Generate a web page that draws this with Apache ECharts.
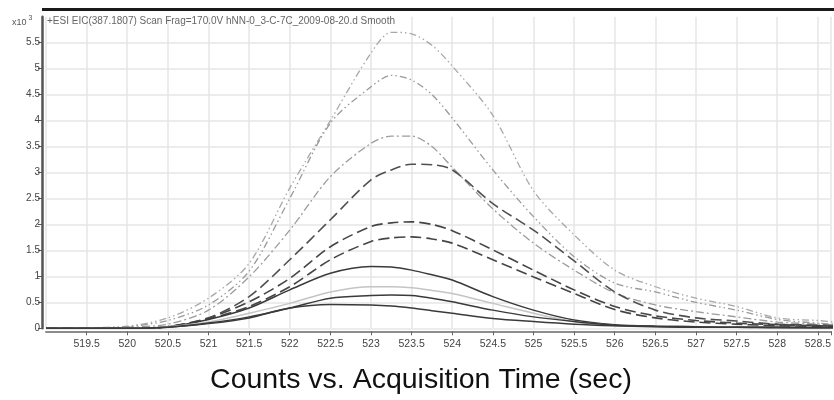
<!DOCTYPE html>
<html>
<head>
<meta charset="utf-8">
<script src="https://cdn.jsdelivr.net/npm/echarts@6/dist/echarts.min.js"></script>
<style>
html,body{margin:0;padding:0;background:#fff;}
#c{width:834px;height:400px;}
</style>
</head>
<body>
<div id="c"></div>
<script>
// Acquisition times (sec)
var times = [519.0, 519.5, 520.0, 520.5, 521.0, 521.5, 522.0, 522.5, 523.0, 523.25, 523.5, 523.75, 524.0, 524.5, 525.0, 525.5, 526.0, 526.5, 527.0, 527.5, 528.0, 528.5, 528.7];
// Counts (x10^3)
var eic1  = [0, 0.01, 0.04, 0.2, 0.58, 1.25, 2.7, 4.0, 5.3, 5.7, 5.67, 5.45, 5.05, 4.1, 2.65, 1.8, 1.12, 0.8, 0.58, 0.42, 0.2, 0.15, 0.12];
var eic2  = [0, 0.01, 0.03, 0.15, 0.45, 1.1, 2.5, 3.95, 4.65, 4.87, 4.78, 4.5, 4.05, 3.05, 2.15, 1.38, 0.87, 0.7, 0.5, 0.35, 0.17, 0.1, 0.08];
var eic3  = [0, 0, 0.02, 0.08, 0.35, 0.99, 1.89, 2.92, 3.56, 3.7, 3.7, 3.5, 3.1, 2.3, 1.64, 1.12, 0.68, 0.45, 0.32, 0.22, 0.12, 0.08, 0.06];
var eic4  = [0, 0, 0, 0.03, 0.2, 0.61, 1.32, 2.09, 2.86, 3.05, 3.16, 3.15, 3.05, 2.4, 1.89, 1.3, 0.7, 0.35, 0.2, 0.14, 0.08, 0.06, 0.05];
var eic5  = [0, 0, 0, 0.03, 0.2, 0.51, 0.96, 1.57, 1.96, 2.03, 2.05, 2.0, 1.88, 1.51, 1.12, 0.74, 0.42, 0.24, 0.15, 0.1, 0.07, 0.05, 0.04];
var eic6  = [0, 0, 0, 0.03, 0.18, 0.42, 0.8, 1.32, 1.67, 1.74, 1.76, 1.72, 1.64, 1.32, 0.99, 0.67, 0.36, 0.2, 0.12, 0.08, 0.05, 0.04, 0.03];
var eic7  = [0, 0, 0, 0.03, 0.17, 0.39, 0.74, 1.06, 1.19, 1.18, 1.12, 1.03, 0.93, 0.61, 0.35, 0.16, 0.07, 0.04, 0.03, 0.02, 0.02, 0.02, 0.02];
var eic8  = [0, 0, 0, 0.03, 0.12, 0.29, 0.48, 0.7, 0.8, 0.8, 0.78, 0.73, 0.67, 0.48, 0.29, 0.13, 0.05, 0.03, 0.02, 0.02, 0.01, 0.01, 0.01];
var eic9  = [0, 0, 0, 0.02, 0.1, 0.22, 0.39, 0.58, 0.63, 0.64, 0.63, 0.58, 0.51, 0.35, 0.22, 0.13, 0.06, 0.04, 0.03, 0.02, 0.02, 0.01, 0.01];
var eic10 = [0, 0, 0, 0.02, 0.09, 0.2, 0.39, 0.46, 0.45, 0.43, 0.39, 0.34, 0.29, 0.19, 0.13, 0.08, 0.05, 0.03, 0.02, 0.02, 0.01, 0.01, 0.01];

var traceTitle = '+ESI EIC(387.1807) Scan Frag=170.0V hNN-0_3-C-7C_2009-08-20.d Smooth';
var xTitle = 'Counts vs. Acquisition Time (sec)';

var styles = [
  {d: eic1,  c: '#a8a8a8', t: [7, 3, 1.5, 3, 1.5, 3], w: 1.3},
  {d: eic2,  c: '#9a9a9a', t: [7, 3, 1.5, 3, 1.5, 3], w: 1.3},
  {d: eic3,  c: '#9c9c9c', t: [8, 3, 2, 3], w: 1.3},
  {d: eic4,  c: '#505050', t: [11, 5], w: 1.6},
  {d: eic5,  c: '#454545', t: [11, 5], w: 1.6},
  {d: eic6,  c: '#454545', t: [11, 5], w: 1.6},
  {d: eic7,  c: '#3a3a3a', t: 'solid', w: 1.5},
  {d: eic8,  c: '#c4c4c4', t: 'solid', w: 1.5},
  {d: eic9,  c: '#3a3a3a', t: 'solid', w: 1.5},
  {d: eic10, c: '#3a3a3a', t: 'solid', w: 1.5}
];

function pairs(arr) {
  return times.map(function (t, i) { return [t, arr[i]]; });
}

var series = styles.map(function (s) {
  return {
    type: 'line',
    data: pairs(s.d),
    smooth: 0.3,
    showSymbol: false,
    silent: true,
    lineStyle: {color: s.c, width: s.w, type: s.t},
    z: 3
  };
});

var chart = echarts.init(document.getElementById('c'), null, {renderer: 'canvas'});
chart.setOption({
  animation: false,
  backgroundColor: '#fff',
  grid: {left: 46, right: 0, top: 16.7, bottom: 71.7, containLabel: false},
  xAxis: {
    type: 'value',
    min: 519,
    max: 528.66,
    interval: 0.5,
    offset: 3,
    axisLine: {show: true, onZero: false, lineStyle: {color: '#8c8c8c', width: 2}},
    axisTick: {show: true, length: 4, lineStyle: {color: '#666', width: 1}},
    axisLabel: {
      show: true, margin: 7, color: '#444', fontSize: 10.5, fontFamily: 'Liberation Sans',
      showMinLabel: false,
      formatter: function (v) {
        if (Math.abs(v * 2 - Math.round(v * 2)) > 1e-6) return '';
        return String(v);
      }
    },
    splitLine: {show: true, lineStyle: {color: '#e6e6e6', width: 1.5}}
  },
  yAxis: {
    type: 'value',
    min: 0,
    max: 6,
    interval: 0.5,
    offset: 4,
    axisLine: {show: true, lineStyle: {color: '#555', width: 2.5}},
    axisTick: {show: true, length: 4, lineStyle: {color: '#555', width: 1}},
    axisLabel: {
      show: true, margin: 2, color: '#444', fontSize: 10, fontFamily: 'Liberation Sans',
      showMaxLabel: false,
      formatter: function (v) { return v > 5.6 ? '' : String(v); }
    },
    splitLine: {show: true, showMaxLine: false, lineStyle: {color: '#e6e6e6', width: 1.5}}
  },
  graphic: [
    {type: 'rect', left: 42, top: 8, shape: {width: 792, height: 3}, style: {fill: '#1a1a1a'}, z: 10},
    {type: 'text', left: 47, top: 16, style: {text: traceTitle, fill: '#666', font: '10px "Liberation Sans"'}, z: 10},
    {type: 'text', left: 12, top: 15, style: {
      text: '{a|x10}{b|3}',
      rich: {a: {fontSize: 9, fill: '#555', fontFamily: 'Liberation Sans', verticalAlign: 'bottom'},
             b: {fontSize: 7, fill: '#555', fontFamily: 'Liberation Sans', padding: [0, 0, 5, 2]}}
    }, z: 10},
    {type: 'text', x: 421, y: 366, style: {text: xTitle, fill: '#111', align: 'center', verticalAlign: 'top', font: '28.5px "Liberation Sans"'}, z: 10}
  ],
  series: series
});
</script>
</body>
</html>
